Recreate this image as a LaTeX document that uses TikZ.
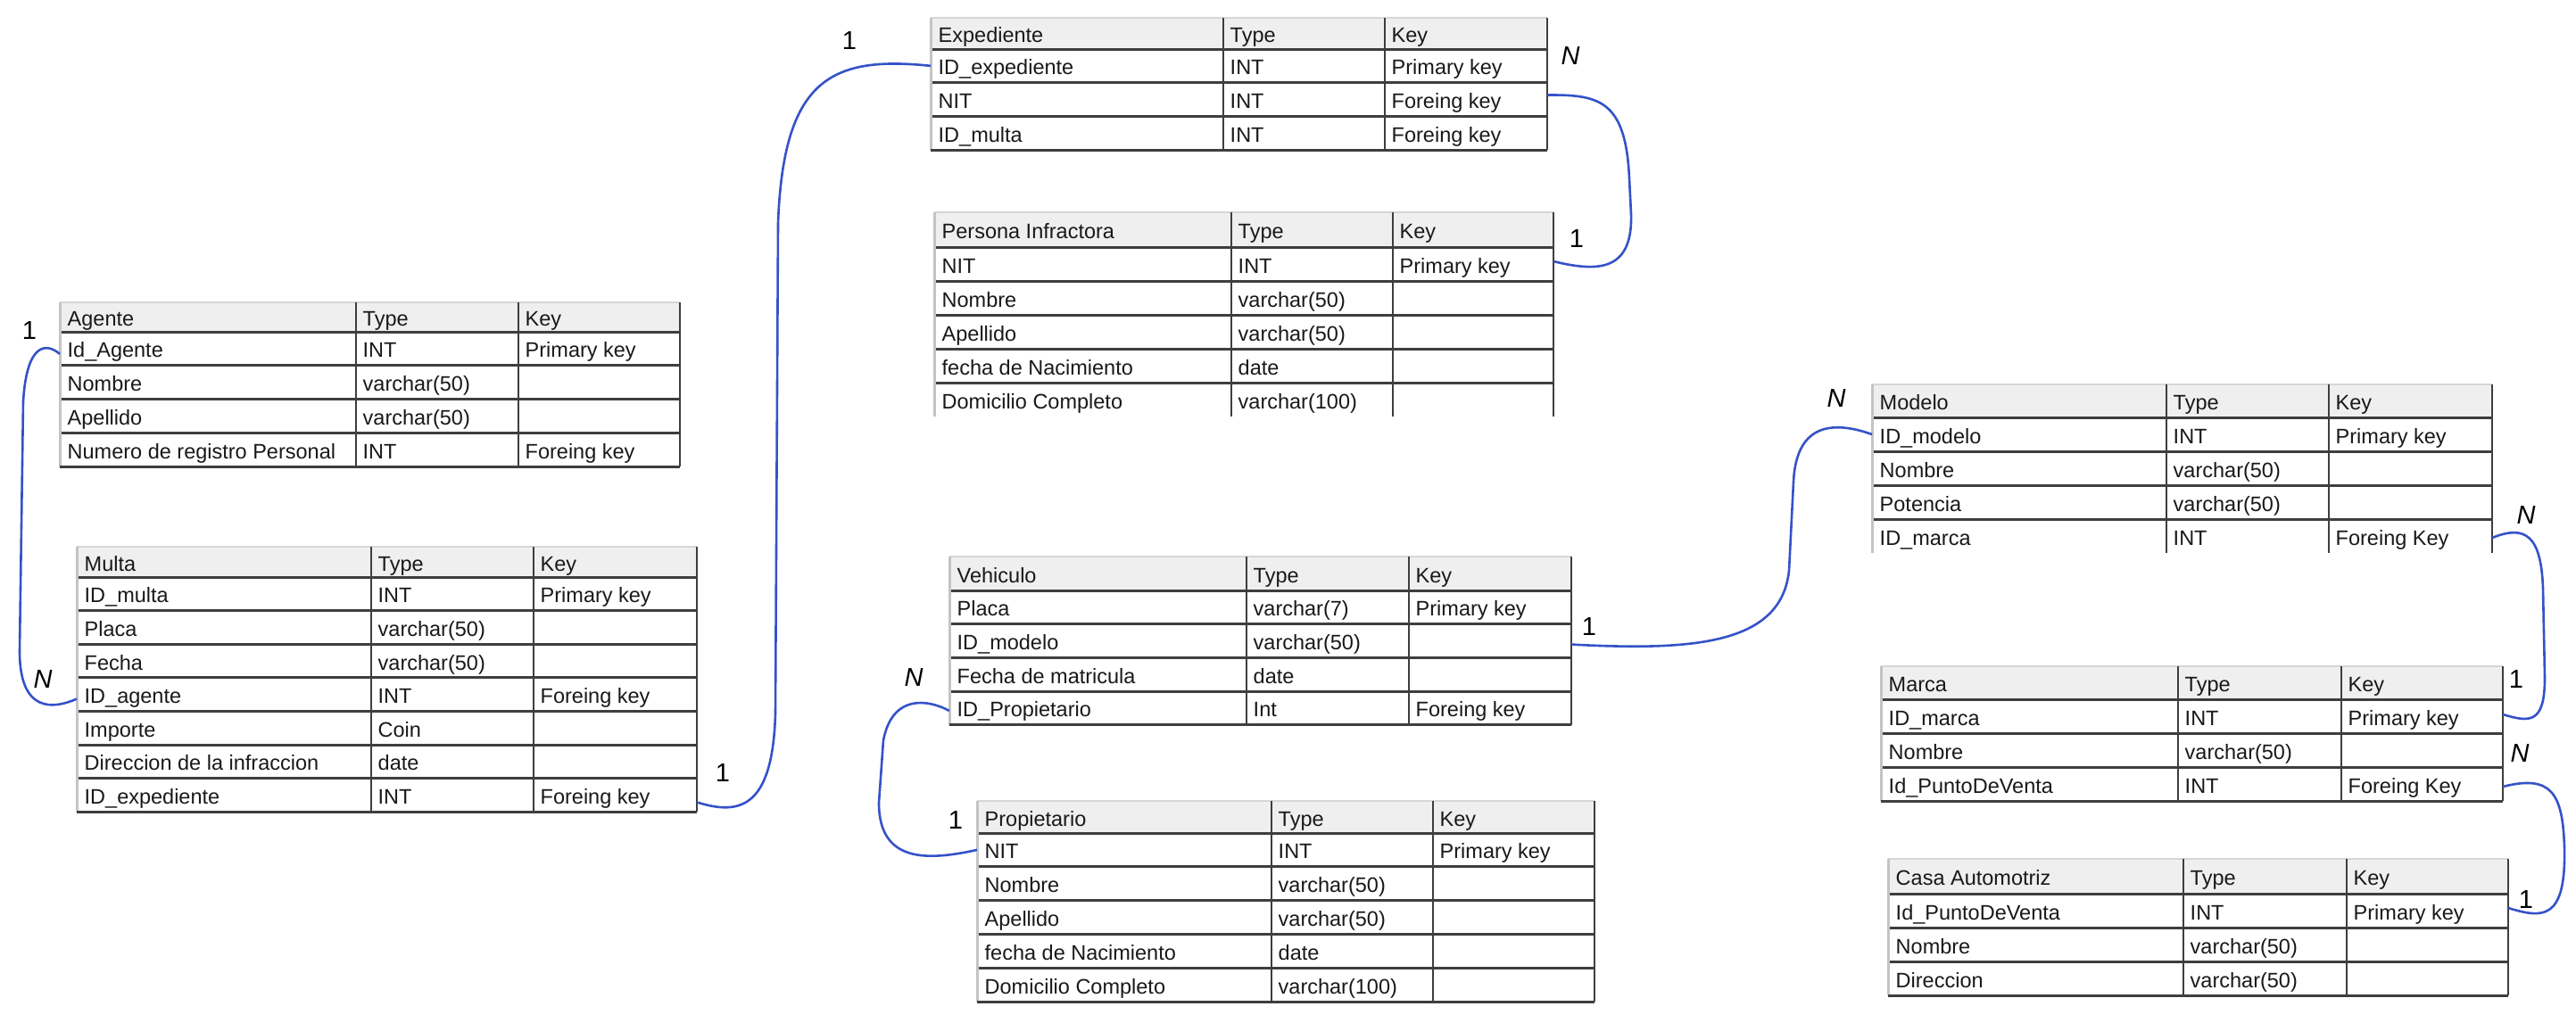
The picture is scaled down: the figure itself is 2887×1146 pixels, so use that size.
\documentclass[tikz,border=0pt]{standalone}
\usepackage{fontspec}
\setmainfont{Liberation Sans}
\usetikzlibrary{calc}
\definecolor{hdr}{HTML}{EFEFEF}
\definecolor{rulec}{HTML}{3E3E3E}
\definecolor{edgec}{HTML}{C4C4C4}
\definecolor{linkc}{HTML}{3552C8}
\newcommand\cellfont{\fontsize{23.5}{26}\selectfont}
\newcommand\lblfont{\fontsize{29}{30}\selectfont}
\newif\iferdbottom \erdbottomtrue
\tikzset{
  cell/.style={anchor=west, inner xsep=7.5pt, inner ysep=0pt, text height=20pt, text depth=0pt, font=\cellfont, text=black!90},
  rowrule/.style={draw=rulec, line width=3pt},
  colrule/.style={draw=rulec, line width=2.5pt},
  edgerule/.style={draw=edgec, line width=3pt},
  toprule/.style={draw=edgec!70, line width=1.5pt},
  link/.style={draw=linkc, line width=2.6pt},
  card/.style={font=\lblfont, inner sep=0pt},
  cardn/.style={font=\lblfont\itshape, inner sep=0pt}
}
\newcommand\erdtable[9]{%
  \fill[hdr] (#2,#6) rectangle (#5,#7);
  \foreach [count=\i from 0] \a/\b/\c in {#9} {
    \ifnum\i=0
      \pgfmathsetmacro\ya{#6}\pgfmathsetmacro\yb{#7}
    \else
      \pgfmathsetmacro\ya{#7+(\i-1)*#8}\pgfmathsetmacro\yb{#7+\i*#8}
      \draw[rowrule] (#2,\ya) -- (#5,\ya);
    \fi
    \pgfmathsetmacro\ym{(\ya+\yb)/2}
    \coordinate (#1-\i-L) at (#2,\ym);
    \coordinate (#1-\i-R) at (#5,\ym);
    \node[cell,inner xsep=8.5pt] (#1-\i-a) at (#2,\ym) {\a};
    \node[cell] (#1-\i-b) at (#3,\ym) {\b};
    \node[cell] (#1-\i-c) at (#4,\ym) {\c};
    \xdef\erdlast{\yb}
  }
  \draw[toprule] (#2,#6) -- (#5,#6);
  \draw[edgerule] (#2,#6) -- (#2,\erdlast);
  \draw[colrule] (#3,#6) -- (#3,\erdlast);
  \draw[colrule] (#4,#6) -- (#4,\erdlast);
  \draw[colrule] (#5,#6) -- (#5,\erdlast);
  \iferdbottom \draw[rowrule] (#2,\erdlast) -- (#5,\erdlast); \fi
}
\begin{document}
\begin{tikzpicture}[x=1pt,y=-1pt]
\fill[white] (0,0) rectangle (2887,1146);
\useasboundingbox (0,0) rectangle (2887,1146);

\erdtable{agente}{67}{399}{581}{762}{339}{372}{37.75}{Agente/Type/Key, Id\_Agente/INT/Primary key, Nombre/varchar(50)/{}, Apellido/varchar(50)/{}, Numero de registro Personal/INT/Foreing key}

\erdtable{multa}{86}{416}{598}{781}{613}{647}{37.6}{Multa/Type/Key, ID\_multa/INT/Primary key, Placa/varchar(50)/{}, Fecha/varchar(50)/{}, ID\_agente/INT/Foreing key, Importe/Coin/{}, Direccion de la infraccion/date/{}, ID\_expediente/INT/Foreing key}

\erdtable{exped}{1043}{1371}{1552}{1734}{20}{55}{37.7}{Expediente/Type/Key, ID\_expediente/INT/Primary key, NIT/INT/Foreing key, ID\_multa/INT/Foreing key}

\erdbottomfalse
\erdtable{persona}{1047}{1380}{1561}{1741}{238}{277}{38}{Persona Infractora/Type/Key, NIT/INT/Primary key, Nombre/varchar(50)/{}, Apellido/varchar(50)/{}, fecha de Nacimiento/date/{}, Domicilio Completo/varchar(100)/{}}
\erdbottomtrue

\erdtable{vehiculo}{1064}{1397}{1579}{1761}{624}{662}{37.7}{Vehiculo/Type/Key, Placa/varchar(7)/Primary key, ID\_modelo/varchar(50)/{}, Fecha de matricula/date/{}, ID\_Propietario/Int/Foreing key}

\erdtable{propiet}{1095}{1425}{1606}{1787}{898}{934}{37.8}{Propietario/Type/Key, NIT/INT/Primary key, Nombre/varchar(50)/{}, Apellido/varchar(50)/{}, fecha de Nacimiento/date/{}, Domicilio Completo/varchar(100)/{}}

\erdbottomfalse
\erdtable{modelo}{2098}{2428}{2610}{2793}{431}{468}{38}{Modelo/Type/Key, ID\_modelo/INT/Primary key, Nombre/varchar(50)/{}, Potencia/varchar(50)/{}, ID\_marca/INT/Foreing Key}
\erdbottomtrue

\erdtable{marca}{2108}{2441}{2624}{2805}{747}{784}{38}{Marca/Type/Key, ID\_marca/INT/Primary key, Nombre/varchar(50)/{}, Id\_PuntoDeVenta/INT/Foreing Key}

\erdtable{casa}{2116}{2447}{2630}{2811}{963}{1002}{38}{Casa Automotriz/Type/Key, Id\_PuntoDeVenta/INT/Primary key, Nombre/varchar(50)/{}, Direccion/varchar(50)/{}}

% connectors
\draw[link] ($(agente-1-L)+(0,6)$) .. controls (52,384) and (30,384) .. (26,450) -- (22,730) .. controls (22,800) and (60,795) .. ($(multa-4-L)+(0,5)$);
\draw[link] ($(multa-7-R)+(0,8)$) .. controls (830,915) and (866,905) .. (869,800) -- (872,250) .. controls (878,90) and (930,62) .. (exped-1-L);
\draw[link] ($(exped-2-R)+(0,-5)$) .. controls (1792,106) and (1822,112) .. (1826,200) -- (1828,240) .. controls (1830,305) and (1790,305) .. ($(persona-1-R)+(0,-3)$);
\draw[link] ($(vehiculo-2-R)+(0,4)$) .. controls (1900,730) and (1996,722) .. (2005,640) -- (2010,540) .. controls (2013,478) and (2050,470) .. (modelo-1-L);
\draw[link] ($(vehiculo-4-L)+(0,3)$) .. controls (1040,784) and (1000,778) .. (990,830) -- (985,900) .. controls (985,968) and (1040,965) .. (propiet-1-L);
\draw[link] ($(modelo-4-R)+(0,2)$) .. controls (2830,588) and (2848,600) .. (2850,660) -- (2852,760) .. controls (2852,812) and (2835,810) .. ($(marca-1-R)+(0,-2)$);
\draw[link] ($(marca-3-R)+(0,3)$) .. controls (2860,868) and (2872,890) .. (2874,950) .. controls (2876,1032) and (2850,1030) .. ($(casa-1-R)+(0,-3)$);

% cardinalities
\node[card]  (cA1) at (33,371) {1};
\node[cardn] (cAN) at (48,762) {N};
\node[card]  (cB1) at (810,867) {1};
\node[card]  (cB2) at (952,46) {1};
\node[cardn] (cCN) at (1760,63) {N};
\node[card]  (cC1) at (1767,268) {1};
\node[card]  (cD1) at (1781,703) {1};
\node[cardn] (cDN) at (2058,447) {N};
\node[cardn] (cEN) at (1024,760) {N};
\node[card]  (cE1) at (1071,920) {1};
\node[cardn] (cFN) at (2831,578) {N};
\node[card]  (cF1) at (2820,762) {1};
\node[cardn] (cGN) at (2824,845) {N};
\node[card]  (cG1) at (2831,1009) {1};
\end{tikzpicture}
\end{document}
